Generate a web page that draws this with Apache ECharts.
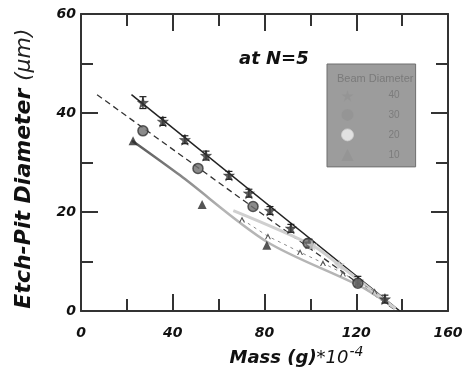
<!DOCTYPE html>
<html>
<head>
<meta charset="utf-8">
<script src="https://cdn.jsdelivr.net/npm/echarts@6/dist/echarts.min.js"></script>
<style>html,body{margin:0;padding:0;background:#fff}#c{width:467px;height:372px}</style>
</head>
<body>
<div id="c"></div>
<script>
// ---- data ----
const xTicks = [0, 40, 80, 120, 160];
const yTicks = [0, 20, 40, 60];
const legendNames = ['40', '30', '20', '10'];
const legendTitle = 'Beam Diameter';
const annotation = 'at N=5';

// series A: stars (with error bars), solid black fit
const massA = [27, 35.7, 45.3, 54.5, 64.5, 73.2, 82.4, 91.5, 99.4, 120.7, 132.5];
const diamA = [42.1, 38.3, 34.6, 31.4, 27.4, 23.8, 20.3, 16.7, 13.7, 6.0, 2.4];
const errA  = [1.2, 0.8, 0.8, 0.9, 0.8, 0.8, 0.8, 0.8, 0.8, 1.0, 0.8];
const fitAx = [22, 139];
const fitAy = [43.7, 0];

// series B: shaded circles, dashed fit
const massB = [27, 51, 75, 99, 120.7];
const diamB = [36.4, 28.8, 21.1, 13.7, 5.6];
const fitBx = [7, 137.6];
const fitBy = [43.7, 0];

// series C: triangles, gray curve
const massC = [22.7, 52.8, 81];
const diamC = [34.4, 21.5, 13.3];
const fitCx = [22.3, 43.2, 81, 121.7, 137];
const fitCy = [34.4, 27.4, 14.0, 5.0, 0.5];

// series D: light gray markers and line
const massD = [100.7, 112.6];
const diamD = [13.3, 9.3];
const fitDx = [66.4, 100.7, 112.6, 137];
const fitDy = [20.3, 13.3, 9.3, 0.5];

// small caret marks along a thin dashed line
const massE = [70.2, 81.5, 95.5, 105.5, 114.2, 128];
const diamE = [18.5, 15.1, 11.9, 9.7, 7.6, 4.0];

const zip = (a, b) => a.map((v, i) => [v, b[i]]);
const STAR = 'path://M50,0 L61,35 L98,35 L68,57 L79,91 L50,70 L21,91 L32,57 L2,35 L39,35 Z';
const CARET = 'path://M0,10 L5,0 L10,10 L8,10 L5,4 L2,10 Z';
const FONT = 'DejaVu Sans';
const axisCol = '#333';

const chart = echarts.init(document.getElementById('c'), null, {renderer: 'canvas'});

function axisCommon(extra) {
  return Object.assign({
    type: 'value',
    axisLine: {show: true, onZero: false, lineStyle: {color: axisCol, width: 2}},
    axisTick: {show: true, inside: true, length: 17, lineStyle: {color: axisCol, width: 2}},
    minorTick: {show: true, splitNumber: 2, length: 12, lineStyle: {color: axisCol, width: 2}},
    splitLine: {show: false}
  }, extra);
}

const tickFont = {fontFamily: FONT, fontSize: 14, fontWeight: 'bold', fontStyle: 'italic', color: '#111'};

const option = {
  animation: false,
  backgroundColor: '#fff',
  grid: {left: 81, right: 19, top: 14, bottom: 57},
  title: [
    {text: annotation, left: 234, top: 45,
     textStyle: {fontFamily: FONT, fontSize: 18, fontWeight: 'bold', fontStyle: 'italic', color: '#111'}},
    {text: legendTitle, left: 332, top: 68,
     textStyle: {fontFamily: 'Liberation Sans', fontSize: 11, fontWeight: 'normal', color: '#7a7a7a'}}
  ],
  legend: {
    orient: 'vertical', left: 327, top: 64,
    padding: [26, 16, 6, 14], itemGap: 7.5, itemWidth: 12, itemHeight: 12,
    backgroundColor: '#9c9c9c', borderColor: '#6f6f6f', borderWidth: 1,
    textStyle: {fontFamily: 'Liberation Sans', fontSize: 10, color: '#7c7c7c', padding: [0, 0, 0, 30]},
    data: [
      {name: legendNames[0], icon: STAR, itemStyle: {color: '#949494', borderWidth: 0}},
      {name: legendNames[1], icon: 'circle', itemStyle: {color: '#949494', borderWidth: 0}},
      {name: legendNames[2], icon: 'circle', itemStyle: {color: '#f2f2f2', borderColor: '#d0d0d0', borderWidth: 1}},
      {name: legendNames[3], icon: 'triangle', itemStyle: {color: '#949494', borderWidth: 0}}
    ]
  },
  xAxis: [
    axisCommon({
      min: xTicks[0], max: xTicks[xTicks.length - 1], interval: xTicks[1] - xTicks[0], position: 'bottom',
      axisLabel: Object.assign({margin: 15}, tickFont),
      name: '{a|Mass (g)}{b|*10}{c|-4}', nameLocation: 'middle', nameGap: 34,
      nameTextStyle: {padding: [0, 0, 0, 64], rich: {
        a: {fontFamily: FONT, fontSize: 18, fontWeight: 'bold', fontStyle: 'italic', color: '#111'},
        b: {fontFamily: FONT, fontSize: 18, fontStyle: 'italic', color: '#111'},
        c: {fontFamily: FONT, fontSize: 14, fontStyle: 'italic', color: '#111', verticalAlign: 'top', padding: [0, 0, 12, 1]}
      }}
    }),
    axisCommon({
      min: xTicks[0], max: xTicks[xTicks.length - 1], interval: xTicks[1] - xTicks[0], position: 'top',
      axisLabel: {show: false}
    })
  ],
  yAxis: [
    axisCommon({
      min: yTicks[0], max: yTicks[yTicks.length - 1], interval: yTicks[1] - yTicks[0], position: 'left',
      axisLabel: Object.assign({margin: 5}, tickFont),
      name: '{a|Etch-Pit Diameter }{b|(μm)}', nameLocation: 'middle', nameGap: 46, nameRotate: 90,
      nameTextStyle: {padding: [0, 12, 0, 0], rich: {
        a: {fontFamily: FONT, fontSize: 22, fontWeight: 'bold', fontStyle: 'italic', color: '#111'},
        b: {fontFamily: FONT, fontSize: 22, fontStyle: 'italic', color: '#222'}
      }}
    }),
    axisCommon({
      min: yTicks[0], max: yTicks[yTicks.length - 1], interval: yTicks[1] - yTicks[0], position: 'right',
      axisLabel: {show: false}
    })
  ],
  series: [
    {type: 'line', data: zip(fitAx, fitAy), showSymbol: false, silent: true, z: 2,
     lineStyle: {color: '#222', width: 1.5}},
    {type: 'line', data: zip(fitBx, fitBy), showSymbol: false, silent: true, z: 2,
     lineStyle: {color: '#333', width: 1.3, type: [6, 4]}},
    {type: 'line', data: zip(fitCx, fitCy), showSymbol: false, silent: true, z: 2, smooth: 0.3,
     lineStyle: {width: 2.5, color: new echarts.graphic.LinearGradient(0, 0, 1, 0, [
       {offset: 0, color: '#555'}, {offset: 0.2, color: '#888'}, {offset: 0.35, color: '#b5b5b5'}, {offset: 1, color: '#b5b5b5'}])}},
    {type: 'line', data: zip(fitDx, fitDy), showSymbol: false, silent: true, z: 2, smooth: 0.3,
     lineStyle: {color: '#cfcfcf', width: 3}},
    {type: 'line', data: zip(massE, diamE), silent: true, z: 3, symbol: CARET, symbolSize: [6, 6],
     itemStyle: {color: '#555'}, lineStyle: {color: '#8a8a8a', width: 1, type: [3, 4]}},
    {type: 'custom', silent: true, z: 4,
     data: massA.map((m, i) => [m, diamA[i], errA[i]]),
     renderItem: function (params, api) {
       const x = api.value(0), y = api.value(1), e = api.value(2);
       const hi = api.coord([x, y + e]), lo = api.coord([x, y - e]);
       const w = 3.5;
       return {type: 'group', children: [
         {type: 'line', shape: {x1: hi[0], y1: hi[1], x2: lo[0], y2: lo[1]}, style: {stroke: '#222', lineWidth: 1.2}},
         {type: 'line', shape: {x1: hi[0] - w, y1: hi[1], x2: hi[0] + w, y2: hi[1]}, style: {stroke: '#222', lineWidth: 1.2}},
         {type: 'line', shape: {x1: lo[0] - w, y1: lo[1], x2: lo[0] + w, y2: lo[1]}, style: {stroke: '#222', lineWidth: 1.2}}
       ]};
     }},
    {name: legendNames[0], type: 'scatter', data: zip(massA, diamA), symbol: STAR, symbolSize: 11, z: 5,
     itemStyle: {color: '#333', borderColor: '#111', borderWidth: 0.5}},
    {name: legendNames[1], type: 'scatter', data: zip(massB, diamB), symbol: 'circle', symbolSize: 10, z: 5,
     itemStyle: {color: '#6e6e6e', borderColor: '#333', borderWidth: 1.5}},
    {name: legendNames[2], type: 'scatter', data: zip(massD, diamD), symbol: STAR, symbolSize: 10, z: 5,
     itemStyle: {color: '#d2d2d2', borderColor: '#c4c4c4', borderWidth: 0.5}},
    {name: legendNames[3], type: 'scatter', data: zip(massC, diamC), symbol: 'triangle', symbolSize: 9, z: 5,
     itemStyle: {color: '#2a2a2a'}}
  ]
};
chart.setOption(option);
</script>
</body>
</html>
